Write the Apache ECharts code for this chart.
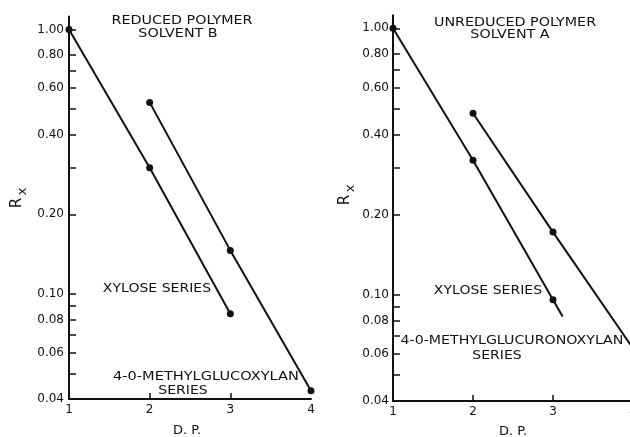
<!DOCTYPE html>
<html><head><meta charset="utf-8">
<script src="https://cdn.jsdelivr.net/npm/echarts@6/dist/echarts.min.js"></script>
<style>html,body{margin:0;padding:0;background:#fff}#c{width:630px;height:437px}</style>
</head><body><div id="c"></div>
<script>
// ---- data ----
const dpTicks = [1, 2, 3, 4];
const dpInnerTicks = [2, 3];
const rxTickValues = [1.00, 0.80, 0.70, 0.60, 0.50, 0.40, 0.30, 0.20, 0.10, 0.09, 0.08, 0.07, 0.06, 0.05, 0.04];
const rxLabelValues = [1.00, 0.80, 0.60, 0.40, 0.20, 0.10, 0.08, 0.06, 0.04];

// Left panel: reduced polymer, solvent B
const leftXyloseDP = [1, 2, 3];
const leftXyloseRx = [1.00, 0.30, 0.084];
const leftMethylDP = [2, 3, 4];
const leftMethylRx = [0.53, 0.146, 0.043];

// Right panel: unreduced polymer, solvent A
const rightXyloseDP = [1, 2, 3];
const rightXyloseRx = [1.00, 0.32, 0.096];
const rightXyloseLineEnd = [3.12, 0.083];
const rightMethylDP = [2, 3];
const rightMethylRx = [0.48, 0.172];
const rightMethylLineEnd = [4, 0.063];

// ---- build ----
// the Rx axis is logarithmic: values are mapped through log10 onto a value axis
const L = v => Math.log10(v);
const RX_MIN = 0.04, RX_MAX = 1.12;
const FONT = '"DejaVu Sans", sans-serif';
const INK = '#111';

function pts(xs, ys, end) {
  const d = xs.map((x, i) => [x, L(ys[i])]);
  if (end) d.push({ value: [end[0], L(end[1])], symbol: 'none' });
  return d;
}
function lineSeries(idx, data) {
  return {
    type: 'line', xAxisIndex: idx, yAxisIndex: idx, data,
    symbol: 'circle', symbolSize: 7, showSymbol: true,
    itemStyle: { color: INK }, lineStyle: { color: INK, width: 2 },
    animation: false, silent: true, clip: false
  };
}
function xAxis(idx, labelMargin) {
  return {
    type: 'value', gridIndex: idx, min: 1, max: 4,
    axisLine: { show: true, onZero: false, lineStyle: { color: INK, width: 2 } },
    axisTick: { show: true, inside: true, length: 6, customValues: dpInnerTicks, lineStyle: { color: INK, width: 1.5 } },
    axisLabel: { show: true, customValues: dpTicks, margin: labelMargin, color: INK, fontSize: 12, fontFamily: FONT, showMinLabel: true, showMaxLabel: true },
    splitLine: { show: false }
  };
}
function yAxis(idx, labelMargin) {
  return {
    type: 'value', gridIndex: idx, min: L(RX_MIN), max: L(RX_MAX),
    axisLine: { show: true, onZero: false, lineStyle: { color: INK, width: 2 } },
    axisTick: { show: true, inside: true, length: 7, customValues: rxTickValues.map(L), lineStyle: { color: INK, width: 1.5 } },
    axisLabel: {
      show: true, customValues: rxLabelValues.map(L), margin: labelMargin, color: INK, fontSize: 12, fontFamily: FONT,
      formatter: v => Math.pow(10, v).toFixed(2)
    },
    splitLine: { show: false }
  };
}
function txt(x, y, text, sx, size) {
  return {
    type: 'text', x, y, scaleX: sx || 1, silent: true,
    style: { text, font: (size || 13) + 'px ' + FONT, fill: INK, textAlign: 'center', textVerticalAlign: 'middle' }
  };
}
function rtxt(x, y, text, size) {
  return {
    type: 'text', x, y, rotation: Math.PI / 2, silent: true,
    style: { text, font: size + 'px ' + FONT, fill: INK, textAlign: 'center', textVerticalAlign: 'middle' }
  };
}

const chart = echarts.init(document.getElementById('c'), null, { renderer: 'canvas' });
chart.setOption({
  backgroundColor: '#fff',
  animation: false,
  grid: [
    { left: 69, top: 16.5, width: 242, height: 382.5, containLabel: false, outerBoundsMode: 'none' },
    { left: 393, top: 15.2, width: 240, height: 385.8, containLabel: false, outerBoundsMode: 'none' }
  ],
  xAxis: [xAxis(0, 5), xAxis(1, 5)],
  yAxis: [yAxis(0, 5), yAxis(1, 4)],
  series: [
    lineSeries(0, pts(leftXyloseDP, leftXyloseRx)),
    lineSeries(0, pts(leftMethylDP, leftMethylRx)),
    lineSeries(1, pts(rightXyloseDP, rightXyloseRx, rightXyloseLineEnd)),
    lineSeries(1, pts(rightMethylDP, rightMethylRx, rightMethylLineEnd))
  ],
  graphic: [
    txt(182, 21, 'REDUCED POLYMER', 1.1),
    txt(178, 33.5, 'SOLVENT B', 1.1),
    txt(157, 289, 'XYLOSE SERIES', 1.08),
    txt(206, 377, '4-0-METHYLGLUCOXYLAN', 1.12),
    txt(183, 390.5, 'SERIES', 1.08),
    txt(187, 431, 'D. P.', 1, 13),
    rtxt(17, 203, 'R', 15),
    rtxt(23, 191.5, 'x', 13),

    txt(515, 23, 'UNREDUCED POLYMER', 1.1),
    txt(510, 34.5, 'SOLVENT A', 1.1),
    txt(488, 291, 'XYLOSE SERIES', 1.08),
    txt(512, 341, '4-0-METHYLGLUCURONOXYLAN', 1.09),
    txt(497, 356, 'SERIES', 1.08),
    txt(513, 432, 'D. P.', 1, 13),
    rtxt(345, 200, 'R', 15),
    rtxt(351, 188.5, 'x', 13)
  ]
});
</script>
</body></html>
